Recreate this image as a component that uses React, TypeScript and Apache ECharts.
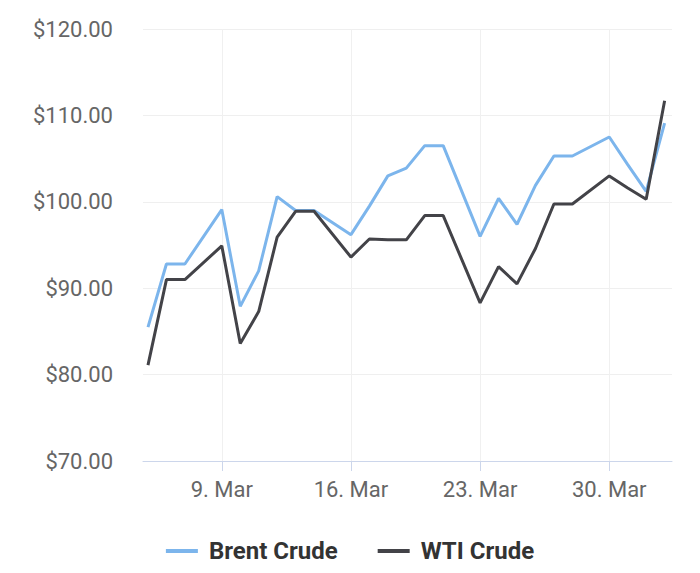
import React, { useEffect, useRef } from "react";
import * as echarts from "echarts";

// trading dates (March 2022 .. 2 April)
const dates = [
  "2022-03-05", "2022-03-06", "2022-03-07", "2022-03-09", "2022-03-10",
  "2022-03-11", "2022-03-12", "2022-03-13", "2022-03-14", "2022-03-16",
  "2022-03-17", "2022-03-18", "2022-03-19", "2022-03-20", "2022-03-21",
  "2022-03-23", "2022-03-24", "2022-03-25", "2022-03-26", "2022-03-27",
  "2022-03-28", "2022-03-30", "2022-03-31", "2022-04-01", "2022-04-02",
];

const brentCrude = [
  85.5, 92.8, 92.8, 99.1, 87.9, 92.0, 100.6, 99.0, 99.0, 96.2,
  99.5, 103.0, 103.9, 106.5, 106.5, 96.0, 100.4, 97.4, 101.9, 105.3,
  105.3, 107.5, 104.3, 101.2, 109.1,
];

const wtiCrude = [
  81.1, 91.0, 91.0, 94.9, 83.6, 87.3, 95.9, 98.9, 98.9, 93.6,
  95.7, 95.6, 95.6, 98.4, 98.4, 88.3, 92.5, 90.5, 94.6, 99.75,
  99.75, 103.0, 101.6, 100.3, 111.7,
];

const xTickDates = ["2022-03-09", "2022-03-16", "2022-03-23", "2022-03-30"];

const DAY = 86400000;
const toTs = (d: string) => new Date(d + "T00:00:00Z").getTime();

const App: React.FC = () => {
  const chartRef = useRef<HTMLDivElement | null>(null);

  useEffect(() => {
    if (!chartRef.current) return;
    const chart = echarts.init(chartRef.current, undefined, { renderer: "svg" });

    const tickValues = xTickDates.map(toTs);

    const option = {
      animation: false,
      textStyle: { fontFamily: "Roboto" },
      grid: { left: 143, right: 28, top: 29, bottom: 112 },
      legend: {
        bottom: 5,
        left: "center",
        icon: "rect",
        itemWidth: 32,
        itemHeight: 4,
        itemGap: 40,
        textStyle: {
          fontFamily: "Roboto",
          fontSize: 24,
          fontWeight: "bold",
          color: "#333333",
          padding: [0, 0, 0, 6],
        },
        data: ["Brent Crude", "WTI Crude"],
      },
      xAxis: {
        type: "value",
        scale: true,
        min: toTs(dates[0]) - 0.27 * DAY,
        max: toTs(dates[dates.length - 1]) + 0.4 * DAY,
        axisLine: { show: true, lineStyle: { color: "#ccd6eb", width: 1 } },
        axisTick: {
          show: true,
          length: 10,
          customValues: tickValues,
          lineStyle: { color: "#ccd6eb" },
        },
        axisLabel: {
          customValues: tickValues,
          margin: 17,
          fontSize: 22,
          color: "#666666",
          fontFamily: "Roboto",
          formatter: (v: number) => `${new Date(v).getUTCDate()}. Mar`,
        },
        splitLine: { show: true, lineStyle: { color: "#f0f0f0", width: 1 } },
      },
      yAxis: {
        type: "value",
        min: 70,
        max: 120,
        interval: 10,
        axisLine: { show: false },
        axisTick: { show: false },
        axisLabel: {
          margin: 30,
          fontSize: 22,
          color: "#666666",
          fontFamily: "Roboto",
          formatter: (v: number) => `$${v.toFixed(2)}`,
        },
        splitLine: { lineStyle: { color: "#efefef", width: 1 } },
      },
      series: [
        {
          name: "Brent Crude",
          type: "line",
          showSymbol: false,
          color: "#7cb5ec",
          lineStyle: { width: 3, color: "#7cb5ec" },
          data: dates.map((d, i) => [toTs(d), brentCrude[i]]),
        },
        {
          name: "WTI Crude",
          type: "line",
          showSymbol: false,
          color: "#434348",
          lineStyle: { width: 3, color: "#434348" },
          data: dates.map((d, i) => [toTs(d), wtiCrude[i]]),
        },
      ],
    };

    chart.setOption(option);

    const handleResize = () => chart.resize();
    window.addEventListener("resize", handleResize);
    return () => {
      window.removeEventListener("resize", handleResize);
      chart.dispose();
    };
  }, []);

  return (
    <div
      ref={chartRef}
      style={{ width: "700px", height: "573px", margin: "-8px" }}
    />
  );
};

export default App;
